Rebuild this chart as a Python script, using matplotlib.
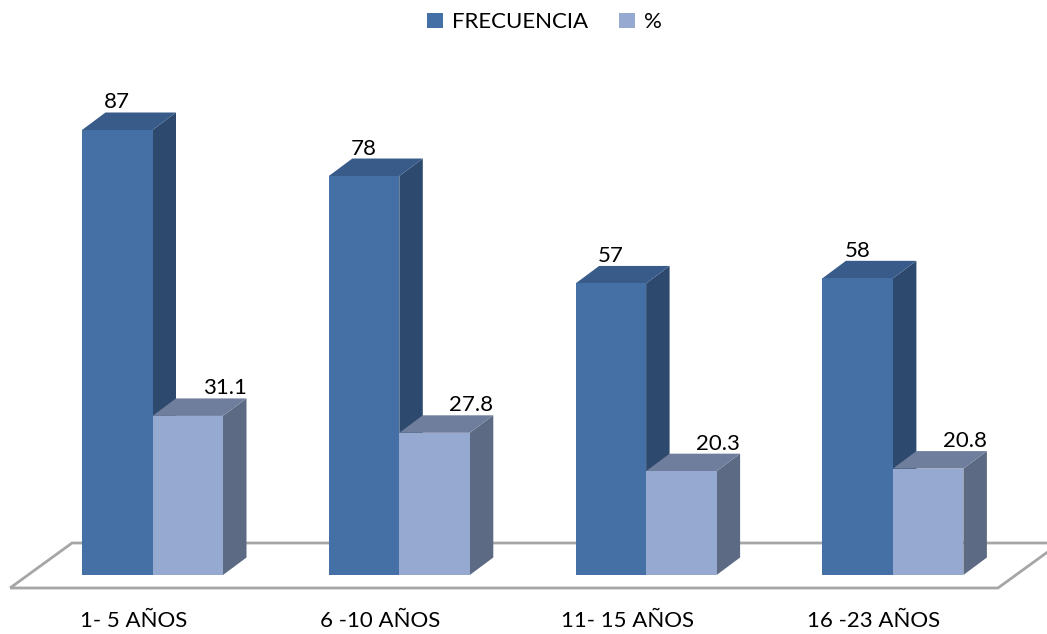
import numpy as np
import matplotlib.pyplot as plt
from matplotlib.patches import Polygon, Patch

# donnees du graphique
categorias = ['1- 5 AÑOS', '6 -10 AÑOS', '11- 15 AÑOS', '16 -23 AÑOS']
frecuencia = [87, 78, 57, 58]
porcentaje = [31.1, 27.8, 20.3, 20.8]
etiq_frec = ['87', '78', '57', '58']
etiq_pct = ['31.1', '27.8', '20.3', '20.8']
series = ['FRECUENCIA', '%']

# couleurs (face avant, dessus, cote)
col_frec = ('#4470A6', '#385B8A', '#2D4A6E')
col_pct = ('#95A9D1', '#707E9E', '#5D6A83')

plt.rcParams['font.family'] = ['Lato', 'DejaVu Sans']

W, H = 1047, 634
fig = plt.figure(figsize=(W / 100, H / 100), dpi=100)
ax = fig.add_axes([0, 0, 1, 1])
ax.axis('off')

# echelle : 1 groupe = 246.8 px, 1 unite = 5.115 px
sx, sy = 246.8, 5.115
x0, y0 = 152.5, 575
ax.set_xlim(-x0 / sx, (W - x0) / sx)
ax.set_ylim(-(H - y0) / sy, y0 / sy)

w = 70.5 / sx      # largeur barre
dx = 23.5 / sx     # profondeur en x
dy = 17.5 / sy     # profondeur en y

# sol en perspective
n = len(categorias)
fy_back, fy_front = 32 / sy, -13 / sy
fsh = 62 / sx
fl = -0.326
fr = n - 1 + 0.677
sol = Polygon([(fl - fsh, fy_front), (fr - fsh, fy_front), (fr, fy_back), (fl, fy_back)],
              closed=True, fill=False, edgecolor='#A6A6A6', lw=2, zorder=1)
ax.add_patch(sol)


def barre(x, h, cols):
    avant, dessus, cote = cols
    ax.add_patch(Polygon([(x + w, 0), (x + w + dx, dy), (x + w + dx, h + dy), (x + w, h)],
                         closed=True, facecolor=cote, edgecolor='none', zorder=2))
    ax.add_patch(Polygon([(x, h), (x + w, h), (x + w + dx, h + dy), (x + dx, h + dy)],
                         closed=True, facecolor=dessus, edgecolor='none', zorder=2))
    ax.add_patch(Polygon([(x, 0), (x + w, 0), (x + w, h), (x, h)],
                         closed=True, facecolor=avant, edgecolor='none', zorder=2))


for i in range(n):
    barre(i - w, frecuencia[i], col_frec)
    barre(i, porcentaje[i], col_pct)
    ax.text(i - w / 2, frecuencia[i] + dy, etiq_frec[i], ha='center', va='bottom',
            fontsize=16, color='black', zorder=3)
    ax.text(i + w + dx, porcentaje[i] + dy, etiq_pct[i], ha='right', va='bottom',
            fontsize=16, color='black', zorder=3)
    ax.text(i - 19 / sx, -46 / sy, categorias[i], ha='center', va='center',
            fontsize=16, color='black')

handles = [Patch(facecolor=col_frec[0]), Patch(facecolor=col_pct[0])]
fig.legend(handles, series, loc='upper center', bbox_to_anchor=(0.52, 1.012), ncol=2,
           frameon=False, fontsize=16, handlelength=0.7, handleheight=0.7,
           handletextpad=0.4, columnspacing=1.4)

plt.savefig('out.png', dpi=100)
